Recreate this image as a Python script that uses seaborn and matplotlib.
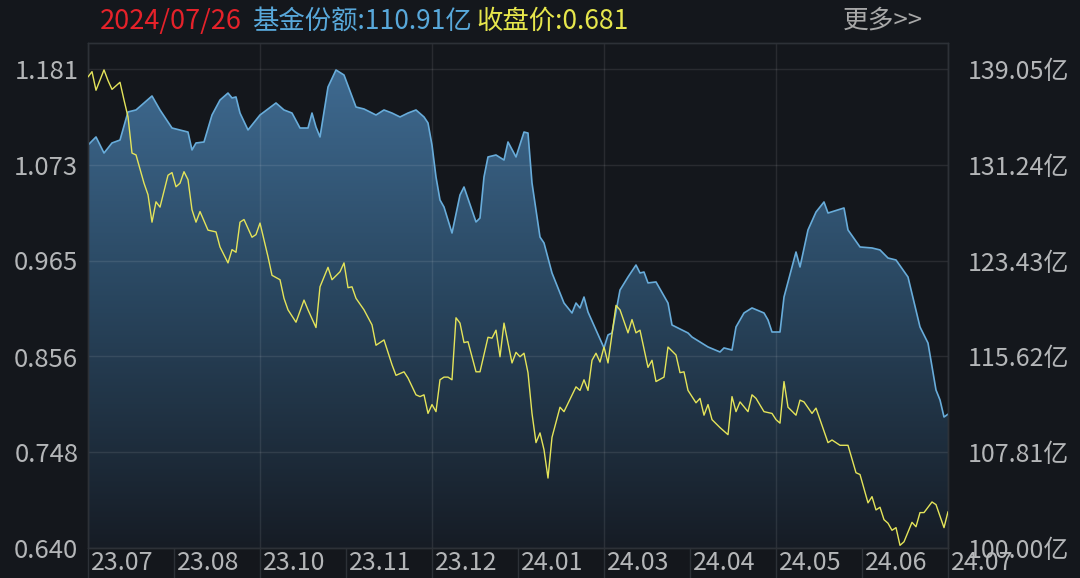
import numpy as np
import pandas as pd
import matplotlib
matplotlib.use('Agg')
import matplotlib.pyplot as plt
import seaborn as sns
from matplotlib.colors import LinearSegmentedColormap

# 基金份额(亿份), trading day index -> value
share_day = [0, 2, 4, 6, 8, 10, 12, 14, 16, 18, 21, 25, 26, 27, 29, 31, 33, 35, 36, 37,
             38, 40, 43, 47, 49, 51, 53, 55, 56, 57, 58, 60, 62, 64, 67, 69, 72, 74, 76, 78,
             80, 82, 84, 85, 86, 87, 88, 89, 91, 93, 94, 97, 98, 99, 100, 102, 104, 105, 107, 109,
             110, 111, 113, 114, 116, 119, 121, 122, 123, 124, 125, 129, 130, 131, 133, 135, 137, 138, 139, 140,
             142, 145, 146, 150, 151, 155, 158, 159, 161, 162, 164, 166, 169, 170, 171, 173, 174, 176, 177, 178,
             180, 182, 184, 185, 189, 190, 193, 196, 198, 200, 202, 205, 208, 210, 212, 213, 214, 215]
share = [132.85, 133.51, 132.20, 133.02, 133.26, 135.55, 135.71, 136.28, 136.85, 135.71,
         134.24, 133.91, 132.45, 133.02, 133.10, 135.30, 136.52, 137.09, 136.69, 136.77,
         135.46, 134.08, 135.30, 136.28, 135.71, 135.46, 134.24, 134.24, 135.46, 134.32,
         133.51, 137.58, 138.97, 138.56, 135.95, 135.79, 135.30, 135.71, 135.46, 135.14,
         135.46, 135.71, 135.14, 134.65, 132.85, 130.25, 128.37, 127.80, 125.68, 128.78,
         129.43, 126.58, 126.90, 130.25, 131.88, 132.04, 131.63, 133.10, 131.88, 133.91,
         133.83, 129.76, 125.35, 124.87, 122.42, 119.97, 119.16, 119.97, 119.57, 120.46,
         119.24, 116.31, 117.37, 117.53, 121.03, 122.09, 123.07, 122.42, 122.50, 121.61,
         121.69, 119.97, 118.18, 117.53, 117.20, 116.39, 115.98, 116.31, 116.14, 118.02,
         119.16, 119.57, 119.16, 118.59, 117.61, 117.61, 120.46, 122.91, 124.13, 122.91,
         125.93, 127.39, 128.21, 127.31, 127.72, 125.93, 124.54, 124.46, 124.30, 123.64,
         123.48, 122.09, 118.02, 116.71, 112.88, 112.07, 110.68, 110.91]

# 收盘价
close_day = [0, 1, 2, 4, 5, 6, 7, 8, 9, 10, 11, 12, 14, 15, 16, 17, 18, 20, 21, 22,
             23, 24, 25, 26, 27, 28, 30, 32, 33, 35, 36, 37, 38, 39, 41, 42, 43, 45, 46, 48,
             49, 50, 52, 54, 55, 57, 58, 60, 61, 63, 64, 65, 66, 67, 69, 71, 72, 74, 76, 77,
             79, 80, 82, 83, 84, 85, 86, 87, 88, 89, 90, 91, 92, 93, 94, 95, 97, 98, 100, 101,
             102, 103, 104, 106, 107, 108, 109, 110, 111, 112, 113, 114, 115, 116, 118, 119, 122, 123, 124, 125,
             126, 127, 128, 129, 130, 132, 133, 135, 136, 137, 138, 140, 141, 142, 144, 145, 147, 148, 149, 150,
             152, 153, 154, 155, 156, 158, 160, 161, 162, 163, 165, 166, 167, 169, 171, 172, 173, 174, 175, 177,
             178, 179, 181, 182, 185, 186, 188, 190, 192, 193, 195, 196, 197, 198, 199, 200, 201, 202, 203, 204,
             206, 207, 208, 209, 211, 212, 214, 215]
close = [1.172, 1.178, 1.157, 1.180, 1.168, 1.158, 1.162, 1.166, 1.146, 1.127,
         1.086, 1.084, 1.052, 1.039, 1.008, 1.031, 1.025, 1.061, 1.064, 1.048,
         1.052, 1.065, 1.056, 1.022, 1.008, 1.020, 0.999, 0.997, 0.980, 0.962,
         0.977, 0.974, 1.008, 1.011, 0.991, 0.994, 1.007, 0.969, 0.948, 0.943,
         0.922, 0.909, 0.895, 0.920, 0.909, 0.889, 0.935, 0.957, 0.943, 0.952,
         0.962, 0.934, 0.935, 0.922, 0.909, 0.892, 0.869, 0.875, 0.847, 0.835,
         0.839, 0.832, 0.813, 0.811, 0.813, 0.792, 0.802, 0.794, 0.830, 0.833,
         0.833, 0.830, 0.900, 0.894, 0.872, 0.873, 0.839, 0.839, 0.878, 0.877,
         0.886, 0.856, 0.894, 0.849, 0.861, 0.856, 0.860, 0.838, 0.792, 0.759,
         0.770, 0.751, 0.719, 0.765, 0.799, 0.794, 0.822, 0.818, 0.830, 0.818,
         0.852, 0.860, 0.850, 0.867, 0.849, 0.914, 0.909, 0.883, 0.898, 0.883,
         0.886, 0.844, 0.852, 0.828, 0.833, 0.867, 0.858, 0.838, 0.839, 0.818,
         0.804, 0.809, 0.790, 0.802, 0.785, 0.776, 0.768, 0.811, 0.794, 0.805,
         0.794, 0.813, 0.809, 0.794, 0.792, 0.785, 0.781, 0.828, 0.799, 0.790,
         0.807, 0.805, 0.792, 0.798, 0.759, 0.762, 0.756, 0.756, 0.725, 0.723,
         0.691, 0.698, 0.683, 0.686, 0.672, 0.668, 0.660, 0.663, 0.643, 0.647,
         0.669, 0.664, 0.680, 0.680, 0.692, 0.689, 0.663, 0.681]

n_days = 215
month_labels = ['23.07', '23.08', '23.10', '23.11', '23.12', '24.01',
                '24.03', '24.04', '24.05', '24.06', '24.07']
price_ticks = ['0.640', '0.748', '0.856', '0.965', '1.073', '1.181']
share_ticks = ['100.00亿', '107.81亿', '115.62亿', '123.43亿', '131.24亿', '139.05亿']
header_date = '2024/07/26'
header_share = '基金份额:110.91亿'
header_close = '收盘价:0.681'

df_share = pd.DataFrame({'day': share_day, 'share': share})
df_close = pd.DataFrame({'day': close_day, 'close': close})

bg = '#14171c'
edge_c = '#2d3137'
txt_c = '#b4b6b8'

sns.set_theme(style='dark', rc={'figure.facecolor': bg, 'axes.facecolor': bg,
                                'axes.edgecolor': edge_c})
plt.rcParams['font.family'] = ['Noto Sans CJK SC', 'DejaVu Sans']

fig = plt.figure(figsize=(10.8, 5.78), dpi=100)
ax = fig.add_axes([88 / 1080, 30 / 578, 860 / 1080, 505 / 578])
ax2 = ax.twinx()

# blue area (fund shares) on the main axes, right-hand scale
p_vals = [float(t) for t in price_ticks]
s_vals = [float(t.rstrip('亿')) for t in share_ticks]
pad = 26 / 479
s_lo, s_hi = s_vals[0], s_vals[-1] + (s_vals[-1] - s_vals[0]) * pad
p_lo, p_hi = p_vals[0], p_vals[-1] + (p_vals[-1] - p_vals[0]) * pad

poly = ax.fill_between(df_share['day'], df_share['share'], s_lo, color='none', lw=0)
cmap = LinearSegmentedColormap.from_list('fill', ['#161c25', '#29465f', '#416e96'])
grad = np.linspace(0, 1, 256).reshape(-1, 1)
im = ax.imshow(grad, cmap=cmap, aspect='auto', origin='lower',
               extent=[0, n_days, s_lo, s_hi], zorder=1)
im.set_clip_path(poly.get_paths()[0], transform=ax.transData)
sns.lineplot(data=df_share, x='day', y='share', ax=ax, color='#68acda', lw=1.2, zorder=3)

# yellow close price, left-hand scale
sns.lineplot(data=df_close, x='day', y='close', ax=ax2, color='#e4e45a', lw=1.0, zorder=3)

ax.set_xlim(0, n_days)
ax.set_ylim(s_lo, s_hi)
ax2.set_ylim(p_lo, p_hi)

ax.set_axisbelow('line')
ax.set_yticks(s_vals)
ax.set_yticklabels(share_ticks)
ax.yaxis.tick_right()
ax.set_xticks(np.linspace(0, n_days, 6))
ax.set_xticklabels([])
ax.grid(True, color='white', alpha=0.09, lw=1)
ax.tick_params(axis='both', length=0)
ax.tick_params(axis='y', labelsize=18, labelcolor=txt_c, pad=14)

ax2.set_yticks(p_vals)
ax2.set_yticklabels(price_ticks)
ax2.yaxis.tick_left()
ax2.tick_params(axis='y', length=0, labelsize=18.5, labelcolor=txt_c, pad=7)
ax2.grid(False)

for a in (ax, ax2):
    a.set_xlabel('')
    a.set_ylabel('')
    for sp in a.spines.values():
        sp.set_color(edge_c)
        sp.set_linewidth(1)

# month labels in cells below the plot
step = n_days / (len(month_labels) - 1)
bounds = [i * step for i in range(len(month_labels))]
ax.vlines(bounds, -0.065, 0, transform=ax.get_xaxis_transform(),
          colors=edge_c, lw=1, clip_on=False)
for b, lab in zip(bounds, month_labels):
    ax.text(b + 0.8, -0.03, lab, transform=ax.get_xaxis_transform(),
            ha='left', va='center', fontsize=18, color=txt_c, zorder=0)

# header
hy = 1 - 21 / 578
fig.text(100 / 1080, hy, header_date, color='#e5222a', fontsize=19.5, va='center')
fig.text(252 / 1080, hy, header_share, color='#58a8da', fontsize=19, va='center')
fig.text(476 / 1080, hy, header_close, color='#e6e64c', fontsize=19, va='center')
fig.text(843 / 1080, hy, '更多>>', color='#a8a8a8', fontsize=18.5, va='center')

fig.savefig('out.png', dpi=100, facecolor=bg)
